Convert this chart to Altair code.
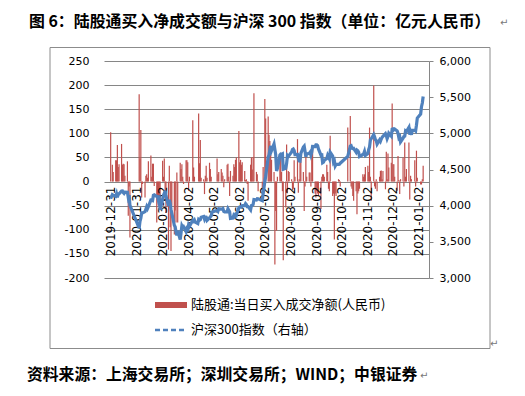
import altair as alt
import pandas as pd

# ---------------- data ----------------
months = ["2019-12", "2020-01", "2020-02", "2020-03", "2020-04", "2020-05", "2020-06",
          "2020-07", "2020-08", "2020-09", "2020-10", "2020-11", "2020-12", "2021-01"]

trade_days = [
    [31],
    [2, 3, 6, 7, 8, 9, 10, 13, 14, 15, 16, 17, 20, 21, 22, 23],
    [3, 4, 5, 6, 7, 10, 11, 12, 13, 14, 17, 18, 19, 20, 21, 24, 25, 26, 27, 28],
    [2, 3, 4, 5, 6, 9, 10, 11, 12, 13, 16, 17, 18, 19, 20, 23, 24, 25, 26, 27, 30, 31],
    [1, 2, 3, 7, 8, 9, 10, 13, 14, 15, 16, 17, 20, 21, 22, 23, 24, 27, 28, 29, 30],
    [6, 7, 8, 11, 12, 13, 14, 15, 18, 19, 20, 21, 22, 25, 26, 27, 28, 29],
    [1, 2, 3, 4, 5, 8, 9, 10, 11, 12, 15, 16, 17, 18, 19, 22, 23, 24, 29, 30],
    [1, 2, 3, 6, 7, 8, 9, 10, 13, 14, 15, 16, 17, 20, 21, 22, 23, 24, 27, 28, 29, 30, 31],
    [3, 4, 5, 6, 7, 10, 11, 12, 13, 14, 17, 18, 19, 20, 21, 24, 25, 26, 27, 28, 31],
    [1, 2, 3, 4, 7, 8, 9, 10, 11, 14, 15, 16, 17, 18, 21, 22, 23, 24, 25, 28, 29, 30],
    [9, 12, 13, 14, 15, 16, 19, 20, 21, 22, 23, 26, 27, 28, 29, 30],
    [2, 3, 4, 5, 6, 9, 10, 11, 12, 13, 16, 17, 18, 19, 20, 23, 24, 25, 26, 27, 30],
    [1, 2, 3, 4, 7, 8, 9, 10, 11, 14, 15, 16, 17, 18, 21, 22, 23, 24, 25, 28, 29, 30, 31],
    [4, 5, 6, 7],
]

# 陆股通 当日买入成交净额 (亿元)
net_buy = [
    [102],
    [35, 20, 44, 44, 76, 30, 36, 78, 35, 37, 36, 12, 42, -71, -10, -116],
    [181, 48, 107, -33, -5, -33, 12, 15, 8, 42, 54, 10, 37, 37, -9, -85, -33, -50, -40, -40],
    [43, 10, 48, -40, -65, -141, 33, -95, -144, -50, -110, -60, -85, 19, -85, 39, 26, 36, 10, -5, 44, 44],
    [40, -19, 10, 127, 29, 10, 0, 0, 141, 38, 86, 8, 5, -26, 12, 33, 8, 39, 26, 10, 0],
    [48, 15, 20, 26, 19, 12, -12, 5, 35, 37, 10, -30, 22, 12, 36, 30, 45, 50],
    [105, 40, 45, 35, 40, 22, 3, 5, -5, -40, 35, 50, 25, 51, 183, 20, 15, -20, -26, 30],
    [0, 171, 131, 135, 97, 84, 55, 45, 20, -172, -61, -102, 10, 55, 50, 20, -20, -163, -54, 77, -23, 22, 20],
    [5, -18, -15, 44, 10, 88, -23, 5, 57, 50, 20, -61, -10, 53, 10, 19, 19, -10, 70, 67, -25],
    [-33, -20, -25, -30, -57, 10, 15, 15, 10, 35, 20, -15, -20, 95, -30, -25, -120, -25, -30, 5, 3, -10],
    [112, 136, -10, -15, -30, -40, -20, -68, -25, -20, -15, 0, 15, 10, 15, 30],
    [33, 20, 112, 10, -40, 199, -10, -15, 5, -20, 10, 22, 23, 5, 22, -16, 62, 5, 58, 29, 39],
    [162, 36, 36, 10, -19, 53, 3, -26, 5, 50, -10, 81, 10, 26, 81, -37, 12, 5, 0, 44, -10, 64, 8],
    [-6, -6, 5, 33],
]

# 沪深300指数 (右轴)
csi300 = [
    [4097],
    [4152, 4144, 4130, 4164, 4113, 4164, 4164, 4203, 4204, 4181, 4169, 4186, 4185, 4114, 4145, 4003],
    [3688, 3785, 3828, 3899, 3899, 3917, 3952, 3987, 3961, 3987, 4078, 4076, 4071, 4144, 4149, 4128, 4126, 4073, 4094, 3940],
    [4091, 4145, 4167, 4207, 4138, 3997, 4081, 4033, 3951, 3895, 3727, 3709, 3637, 3589, 3653, 3531, 3626, 3722, 3698, 3710, 3641, 3686],
    [3675, 3734, 3713, 3798, 3785, 3801, 3771, 3753, 3808, 3798, 3805, 3839, 3850, 3815, 3843, 3841, 3797, 3831, 3847, 3861, 3912],
    [3934, 3921, 3957, 3953, 3950, 3959, 3920, 3913, 3917, 3958, 3937, 3915, 3824, 3829, 3867, 3853, 3877, 3867],
    [3971, 3983, 3986, 3981, 3999, 4003, 4028, 4014, 3986, 3987, 3941, 4001, 4008, 4016, 4084, 4078, 4096, 4095, 4069, 4163],
    [4248, 4336, 4404, 4670, 4698, 4774, 4826, 4761, 4853, 4778, 4706, 4480, 4514, 4699, 4712, 4709, 4716, 4505, 4518, 4581, 4692, 4678, 4695],
    [4741, 4776, 4784, 4763, 4707, 4708, 4655, 4620, 4617, 4722, 4811, 4824, 4752, 4677, 4714, 4723, 4739, 4700, 4739, 4819, 4817],
    [4842, 4842, 4831, 4785, 4698, 4701, 4593, 4600, 4627, 4653, 4696, 4671, 4648, 4738, 4686, 4602, 4621, 4550, 4571, 4570, 4573, 4587],
    [4681, 4823, 4829, 4794, 4790, 4793, 4738, 4769, 4760, 4738, 4680, 4698, 4710, 4716, 4750, 4695],
    [4720, 4778, 4812, 4907, 4925, 4983, 4954, 4911, 4899, 4851, 4910, 4890, 4921, 4944, 4959, 4996, 4970, 4926, 4955, 5001, 4960],
    [5057, 5062, 5049, 5059, 5033, 4998, 4938, 4953, 4880, 4932, 4956, 4962, 5032, 5023, 5081, 4982, 5017, 4981, 5042, 5045, 5034, 5113, 5211],
    [5267, 5368, 5419, 5510],
]

x_tick_labels = ["2019-12-31", "2020-01-31", "2020-03-02", "2020-04-02", "2020-05-02",
                 "2020-06-02", "2020-07-02", "2020-08-02", "2020-09-02", "2020-10-02",
                 "2020-11-02", "2020-12-02", "2021-01-02"]
left_ticks = [-200, -150, -100, -50, 0, 50, 100, 150, 200, 250]
right_ticks = [3000, 3500, 4000, 4500, 5000, 5500, 6000]

title_text = "图 6：陆股通买入净成交额与沪深 300 指数（单位：亿元人民币）"
source_text = "资料来源：上海交易所；深圳交易所；WIND；中银证券"
legend_bar = "陆股通:当日买入成交净额(人民币)"
legend_line = "沪深300指数（右轴）"

# ---------------- table ----------------
rows = []
for m, days, nb, cs in zip(months, trade_days, net_buy, csi300):
    for d, v, c in zip(days, nb, cs):
        rows.append({"date": f"{m}-{d:02d}", "net": v, "csi": c})
df = pd.DataFrame(rows)
ticks_df = pd.DataFrame({"date": x_tick_labels, "label": x_tick_labels})

W, H = 325, 217
NUM_FONT = "DejaVu Sans"
CJK = "Noto Sans CJK SC"
GRID = "#868686"
zero_y = H * 250 / 450

x_scale = alt.Scale(type="utc",
                    domain=[alt.DateTime(year=2019, month=12, date=29, utc=True),
                            alt.DateTime(year=2021, month=1, date=8, utc=True)])

bars = alt.Chart(df).mark_bar(size=1.2, color="#C0504D").encode(
    x=alt.X("date:T", scale=x_scale, axis=None),
    y=alt.Y("net:Q",
            scale=alt.Scale(domain=[-200, 250], nice=False, zero=False),
            axis=alt.Axis(values=left_ticks, grid=True, gridColor=GRID, gridOpacity=1,
                          domain=False, ticks=False, labelPadding=15, title=None,
                          labelExpr="'' + datum.value", labelFont=NUM_FONT,
                          labelFontSize=11, labelColor="#000000")),
)

line = alt.Chart(df).mark_line(color="#4F81BD", strokeWidth=3.2).encode(
    x=alt.X("date:T", scale=x_scale, axis=None),
    y=alt.Y("csi:Q",
            scale=alt.Scale(domain=[3000, 6000], nice=False, zero=False),
            axis=alt.Axis(orient="right", values=right_ticks, grid=False, domain=True,
                          domainColor=GRID, ticks=True, tickColor=GRID, tickSize=4,
                          labelPadding=6, title=None,
                          labelExpr="replace(format(datum.value, ',d'), 'e+3', '')",
                          labelFont=NUM_FONT, labelFontSize=11, labelColor="#000000")),
)

x_labels = alt.Chart(ticks_df).mark_text(
    angle=270, align="right", baseline="middle", font=NUM_FONT, fontSize=12, color="#000000"
).encode(
    x=alt.X("date:T", scale=x_scale, axis=None),
    y=alt.value(zero_y + 5),
    text="label:N",
)

one = pd.DataFrame({"t": [""]})


def txt(s, x, y, size, weight="normal", color="#000000", font=CJK):
    return alt.Chart(pd.DataFrame({"t": [s]})).mark_text(
        align="left", baseline="middle", fontSize=size, fontWeight=weight,
        font=font, color=color).encode(x=alt.value(x), y=alt.value(y), text="t:N")


ox, oy = 104, 61  # page position of the plot origin

border = alt.Chart(one).mark_rect(fillOpacity=0, stroke="#8C8C8C", strokeWidth=1).encode(
    x=alt.value(50 - ox), x2=alt.value(490 - ox), y=alt.value(47.5 - oy), y2=alt.value(348.5 - oy))

leg_swatch = alt.Chart(one).mark_rect(color="#C0504D").encode(
    x=alt.value(155 - ox), x2=alt.value(187 - ox), y=alt.value(302 - oy), y2=alt.value(308 - oy))
leg_dash = alt.Chart(one).mark_rule(color="#4F81BD", strokeWidth=2.5, strokeDash=[5, 3]).encode(
    x=alt.value(155 - ox), x2=alt.value(187 - ox), y=alt.value(330 - oy))

layers = [
    border,
    bars,
    x_labels,
    line,
    leg_swatch,
    leg_dash,
    txt(legend_bar, 191 - ox, 305 - oy, 13),
    txt(legend_line, 191 - ox, 330 - oy, 13),
    txt(title_text, 29 - ox, 22 - oy, 15.9, "bold"),
    txt("↵", 500 - ox, 23 - oy, 10, color="#777777", font=NUM_FONT),
    txt(source_text, 27 - ox, 375 - oy, 15.8, "bold"),
    txt("↵", 420 - ox, 376 - oy, 10, color="#777777", font=NUM_FONT),
    txt("↵", 490 - ox, 344 - oy, 10, color="#777777", font=NUM_FONT),
]

chart = alt.layer(*layers).resolve_scale(y="independent").properties(
    width=W, height=H,
    padding={"left": ox - 8, "top": oy - 8, "right": 85, "bottom": 108},
    autosize=alt.AutoSizeParams(type="none"),
).configure_view(stroke="transparent")

chart.save("out.html", embed_options={"renderer": "svg", "actions": False})
